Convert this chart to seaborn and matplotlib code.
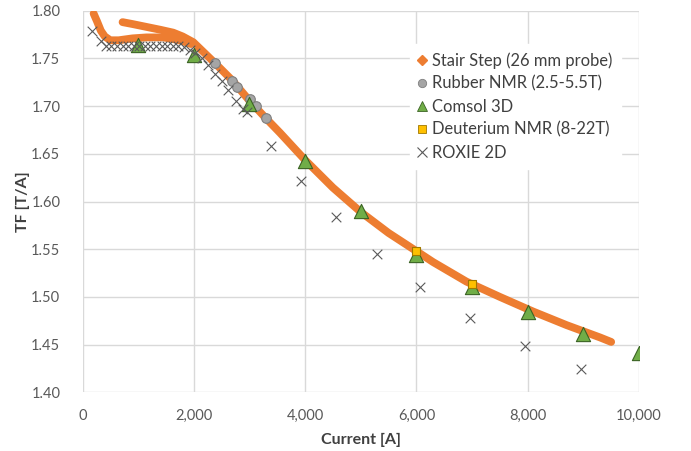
import matplotlib
matplotlib.use("Agg")
import matplotlib.pyplot as plt
from matplotlib.lines import Line2D
from matplotlib.ticker import FuncFormatter
import seaborn as sns
import pandas as pd

# ---------------- data ----------------
# Stair Step (26 mm probe): two measured segments
stair_low_I = [200, 260, 330, 400, 500, 650, 900, 1150, 1450, 1650, 1800, 1950]
stair_low_TF = [1.797, 1.789, 1.779, 1.773, 1.769, 1.769, 1.771, 1.772, 1.772, 1.770, 1.768, 1.765]
stair_main_I = [720, 900, 1150, 1400, 1630, 1800, 1990, 2150, 2381, 2690, 3010, 3300, 3549,
                4000, 4500, 5000, 5500, 6000, 6300, 6900, 7500, 8100, 8700, 9300, 9500]
stair_main_TF = [1.788, 1.786, 1.783, 1.780, 1.777, 1.773, 1.767, 1.758, 1.745, 1.727, 1.705,
                 1.687, 1.672, 1.6435, 1.6145, 1.589, 1.567, 1.548, 1.5365, 1.516, 1.500, 1.4846,
                 1.4704, 1.4575, 1.4528]

rubber_I = [2381, 2681, 2782, 3010, 3118, 3297]
rubber_TF = [1.745, 1.7265, 1.720, 1.7073, 1.7003, 1.6874]

comsol_I = [1000, 2000, 3000, 4000, 5000, 6000, 7000, 8000, 9000, 10000]
comsol_TF = [1.764, 1.7537, 1.7024, 1.642, 1.5896, 1.5444, 1.5107, 1.4838, 1.4615, 1.4416]

deut_I = [6000, 7000]
deut_TF = [1.5476, 1.514]

roxie_I = [170, 330, 430, 520, 620, 720, 820, 920, 1020, 1120, 1220, 1320, 1420, 1520, 1620,
           1720, 1820, 1932, 2022, 2142, 2261, 2380, 2500, 2620, 2750, 2890, 2950,
           3382, 3921, 4555, 5286, 6065, 6970, 7950, 8950]
roxie_TF = [1.779, 1.768, 1.763, 1.763, 1.763, 1.763, 1.763, 1.763, 1.763, 1.763, 1.763, 1.763,
            1.763, 1.763, 1.763, 1.763, 1.762, 1.759, 1.7555, 1.750, 1.743, 1.734, 1.726,
            1.717, 1.705, 1.697, 1.694, 1.6587, 1.621, 1.5834, 1.5454, 1.510, 1.478, 1.449, 1.424]

x_ticks = [0, 2000, 4000, 6000, 8000, 10000]
y_ticks = [1.40, 1.45, 1.50, 1.55, 1.60, 1.65, 1.70, 1.75, 1.80]

labels = ["Stair Step (26 mm probe)", "Rubber NMR (2.5-5.5T)", "Comsol 3D",
          "Deuterium NMR (8-22T)", "ROXIE 2D"]

# ---------------- styling ----------------
sns.set_theme(style="white")
plt.rcParams["font.family"] = ["Lato", "DejaVu Sans"]

ORANGE = "#ED7D31"
GRAY = "#A5A5A5"
GREEN = "#70AD47"
YELLOW = "#FFC000"
CROSS = "#595959"
TXT = "#595959"

fig = plt.figure(figsize=(6.91, 4.51), dpi=100)
ax = fig.add_axes([82.5 / 691, 1 - 392.3 / 451, (639 - 82.5) / 691, (392.3 - 10.7) / 451])

stair_df = pd.DataFrame({
    "I": stair_low_I + stair_main_I,
    "TF": stair_low_TF + stair_main_TF,
    "seg": ["a"] * len(stair_low_I) + ["b"] * len(stair_main_I),
})
sns.lineplot(data=stair_df, x="I", y="TF", units="seg", estimator=None, sort=False,
             color=ORANGE, lw=5.6, ax=ax, zorder=3, solid_capstyle="round",
             solid_joinstyle="round")

sns.scatterplot(x=rubber_I, y=rubber_TF, marker="o", s=48, color=GRAY,
                edgecolor="#7F7F7F", linewidth=0.8, ax=ax, zorder=4)
sns.scatterplot(x=comsol_I, y=comsol_TF, marker="^", s=105, color=GREEN,
                edgecolor="#3B6324", linewidth=0.8, ax=ax, zorder=5)
sns.scatterplot(x=deut_I, y=deut_TF, marker="s", s=26, color=YELLOW,
                edgecolor="#A07800", linewidth=0.8, ax=ax, zorder=6)
sns.scatterplot(x=roxie_I, y=roxie_TF, marker="x", s=48, color=CROSS,
                linewidth=0.8, ax=ax, zorder=7)

ax.set_xlim(0, 10000)
ax.set_ylim(1.40, 1.80)
ax.set_xticks(x_ticks)
ax.set_yticks(y_ticks)
ax.xaxis.set_major_formatter(FuncFormatter(lambda v, p: f"{int(v):,}"))
ax.yaxis.set_major_formatter(FuncFormatter(lambda v, p: f"{v:.2f}"))
ax.grid(True, color="#D9D9D9", lw=1.0)
ax.set_axisbelow(True)
for s in ax.spines.values():
    s.set_visible(False)
ax.tick_params(axis="both", length=0, labelsize=10.5, colors=TXT)
ax.tick_params(axis="y", pad=16)
ax.tick_params(axis="x", pad=12)

ax.set_xlabel("Current [A]", fontsize=11.5, fontweight="bold", color="#404040", labelpad=7)
ax.set_ylabel("TF [T/A]", fontsize=11.5, fontweight="bold", color="#404040", labelpad=1)

handles = [
    Line2D([], [], ls="none", marker="D", ms=5, color=ORANGE),
    Line2D([], [], ls="none", marker="o", ms=6, color=GRAY, mec="#7F7F7F", mew=0.6),
    Line2D([], [], ls="none", marker="^", ms=7, color=GREEN, mec="#3B6324", mew=0.6),
    Line2D([], [], ls="none", marker="s", ms=5.5, color=YELLOW, mec="#A07800", mew=0.6),
    Line2D([], [], ls="none", marker="x", ms=7, color=CROSS, mew=0.8),
]
leg = ax.legend(handles, labels, loc="upper left",
                bbox_to_anchor=(410 / 691, 1 - 44 / 451), bbox_transform=fig.transFigure,
                frameon=True, fancybox=False, facecolor="white", edgecolor="white",
                framealpha=1.0, fontsize=11.9, handlelength=0.5, handletextpad=0.33,
                labelspacing=0.42, borderpad=0.5, borderaxespad=0)
leg.set_zorder(10)
for t in leg.get_texts():
    t.set_color("#404040")

fig.savefig("out.png", dpi=100)
